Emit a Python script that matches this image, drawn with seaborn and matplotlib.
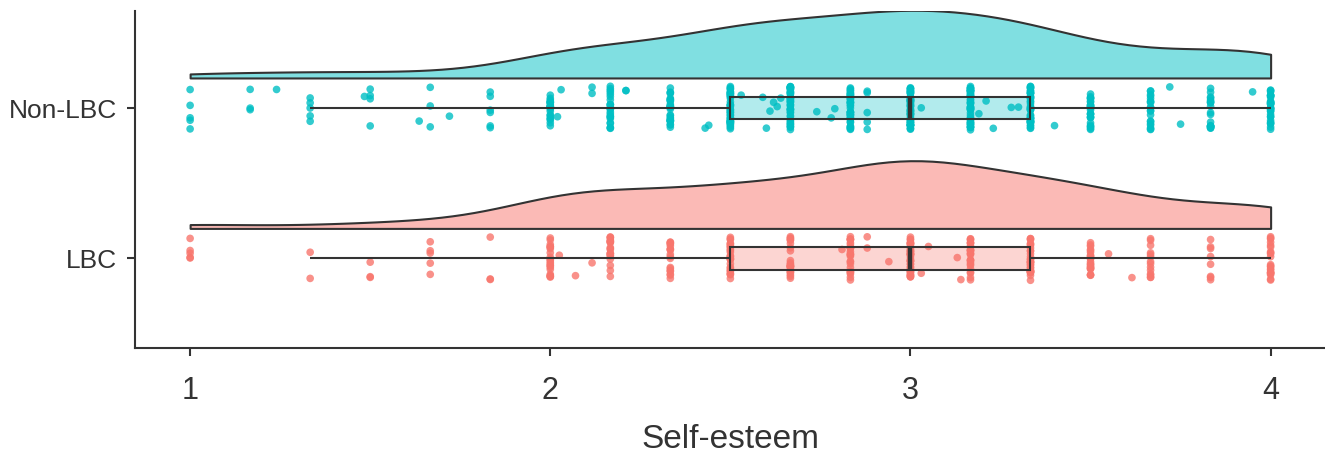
import numpy as np
import pandas as pd
import matplotlib
matplotlib.use("Agg")
import matplotlib.pyplot as plt
import seaborn as sns

# ---------------- data ----------------
groups = ["Non-LBC", "LBC"]
levels = [1.0, 1.1667, 1.3333, 1.5, 1.6667, 1.8333, 2.0, 2.1667, 2.3333, 2.5,
          2.6667, 2.8333, 3.0, 3.1667, 3.3333, 3.5, 3.6667, 3.8333, 4.0]
nonlbc_counts = [5, 3, 5, 4, 3, 6, 22, 24, 28, 40, 42, 42, 58, 48, 44, 26, 20, 20, 30]
lbc_counts = [5, 0, 2, 3, 5, 3, 22, 20, 18, 26, 24, 26, 44, 26, 30, 22, 14, 8, 22]
nonlbc_extra = [1.24, 1.484, 1.636, 1.72, 2.02, 2.03, 2.116, 2.116, 2.21, 2.21,
                2.43, 2.44, 2.53, 2.59, 2.60, 2.61, 2.62, 2.63, 2.64, 2.74, 2.78,
                2.79, 2.88, 2.88, 2.88, 2.88, 2.88, 3.03, 3.19, 3.21, 3.23, 3.28,
                3.30, 3.40, 3.72, 3.75, 3.95]
lbc_extra = [2.025, 2.07, 2.116, 2.81, 2.88, 2.88, 2.94, 3.03, 3.05, 3.13, 3.14,
             3.55, 3.615]

colors = {"Non-LBC": "#00BFC4", "LBC": "#F8766D"}
light = {"Non-LBC": "#80DFE1", "LBC": "#FBBAB6"}

rows = []
for g, counts, extra in [("Non-LBC", nonlbc_counts, nonlbc_extra),
                         ("LBC", lbc_counts, lbc_extra)]:
    vals = list(np.repeat(levels, counts)) + list(extra)
    rows += [(g, v) for v in vals]
df = pd.DataFrame(rows, columns=["group", "score"])

# layout: category rows (inverted y axis) and the raised cloud position
ypos = {"Non-LBC": 0.0, "LBC": 1.0}
cloud_gap, cloud_height = 0.2, 0.45
df["y"] = df["group"].map(ypos)
df["y_cloud"] = df["y"] - cloud_gap - cloud_height / 2

# ---------------- plot ----------------
sns.set_theme(style="ticks")
plt.rcParams["font.family"] = ["Liberation Sans", "DejaVu Sans"]
dark = "#333333"

fig = plt.figure(figsize=(13.25, 4.57), dpi=100)
ax = fig.add_axes([0.1019, 0.2385, 0.8981, 0.7374])

for g in groups:
    sub = df[df["group"] == g]
    sns.violinplot(data=sub, x="score", y="y_cloud", hue="group", hue_order=[g],
                   palette={g: light[g]}, split=True, native_scale=True,
                   orient="h", inner=None, cut=0, density_norm="width",
                   width=cloud_height, bw_adjust=0.9, linecolor=dark,
                   linewidth=1.5, saturation=1, dodge=False, legend=False, ax=ax)

np.random.seed(7)
sns.stripplot(data=df, x="score", y="y", hue="group", palette=colors,
              native_scale=True, orient="h", jitter=0.145, size=5.5, alpha=0.8,
              linewidth=0, dodge=False, legend=False, zorder=2, ax=ax)

n_lines = len(ax.lines)
sns.boxplot(data=df, x="score", y="y", hue="group", palette=colors,
            native_scale=True, orient="h", width=0.15, dodge=False,
            showfliers=False, showcaps=False, whis=1.5, linecolor=dark,
            linewidth=1.5, medianprops={"linewidth": 3.2, "color": dark},
            saturation=1, legend=False, ax=ax)
for p in ax.patches:
    fc = p.get_facecolor()
    p.set_facecolor((fc[0], fc[1], fc[2], 0.3))
    p.set_zorder(3)
for ln in ax.lines[n_lines:]:
    ln.set_zorder(4)

ax.set_xlim(0.847, 4.151)
ax.set_ylim(1.595, -0.645)
ax.set_yticks([0, 1])
ax.set_yticklabels(groups)
ax.set_xticks([1, 2, 3, 4])
ax.set_xticklabels(["1", "2", "3", "4"])
ax.set_ylabel("")
ax.set_xlabel("Self-esteem", fontsize=24, color=dark, labelpad=13)
sns.despine(ax=ax)
for s in ["left", "bottom"]:
    ax.spines[s].set_linewidth(1.5)
    ax.spines[s].set_color(dark)
ax.tick_params(axis="x", labelsize=22, length=6, width=1.5, color=dark,
               labelcolor=dark, pad=14)
ax.tick_params(axis="y", labelsize=19, length=6, width=1.5, color=dark,
               labelcolor=dark, pad=7)

fig.savefig("out.png", dpi=100)
